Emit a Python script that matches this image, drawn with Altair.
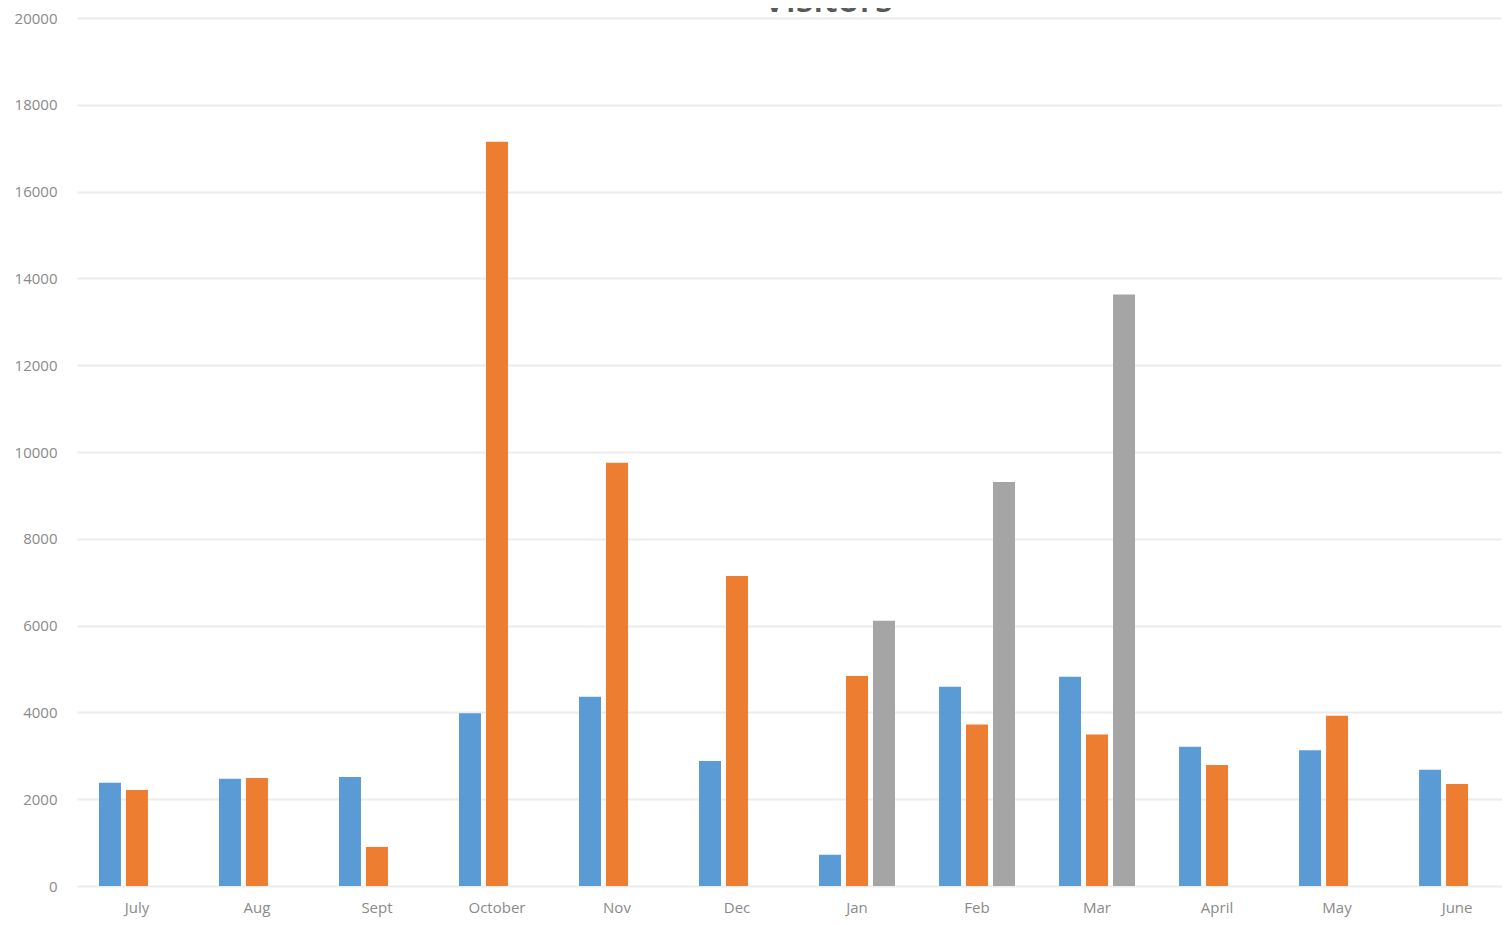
import altair as alt
import pandas as pd

months = ["July", "Aug", "Sept", "October", "Nov", "Dec", "Jan", "Feb", "Mar", "April", "May", "June"]
series_names = ["Series1", "Series2", "Series3"]
blue = [2380, 2470, 2510, 3980, 4360, 2880, 720, 4590, 4820, 3210, 3130, 2680]
orange = [2210, 2490, 900, 17150, 9750, 7140, 4840, 3720, 3490, 2790, 3920, 2350]
gray = [None, None, None, None, None, None, 6110, 9310, 13630, None, None, None]
colors = ["#5B9BD5", "#ED7D31", "#A5A5A5"]
y_ticks = list(range(0, 20001, 2000))
title_text = "Visitors"

rows = []
for name, vals in zip(series_names, [blue, orange, gray]):
    for m, v in zip(months, vals):
        if v is not None:
            rows.append({"month": m, "series": name, "value": v})
df = pd.DataFrame(rows)

bars = alt.Chart(df).mark_bar().encode(
    x=alt.X("month:N", sort=months,
            scale=alt.Scale(domain=months, range=[1, 1441], paddingInner=0.367, paddingOuter=0.183),
            axis=alt.Axis(title=None, labelAngle=0, ticks=False, domain=False,
                          labelFontSize=15, labelColor="#8a8a8a", labelFont="Open Sans",
                          labelPadding=21, labelBaseline="middle")),
    xOffset=alt.XOffset("series:N", scale=alt.Scale(domain=series_names, paddingInner=0.185, paddingOuter=0)),
    y=alt.Y("value:Q", scale=alt.Scale(domain=[0, 20000], nice=False),
            axis=alt.Axis(title=None, values=y_ticks, format="d", ticks=False, domain=False,
                          labelFontSize=15, labelColor="#8a8a8a", labelFont="Open Sans",
                          labelPadding=19, gridColor="#ececec", gridWidth=2)),
    color=alt.Color("series:N", scale=alt.Scale(domain=series_names, range=colors), legend=None),
)

title = alt.Chart(alt.Data(values=[{"t": title_text}])).mark_text(
    font="Open Sans", fontSize=36, fontWeight=600, color="#595959", baseline="alphabetic", align="center"
).encode(
    text="t:N", x=alt.value(752), y=alt.value(-6)
)

chart = alt.layer(bars, title).properties(
    width=1426, height=868,
    autosize=alt.AutoSizeParams(type="none"),
    padding={"left": 68, "top": 10, "right": 0, "bottom": 31},
).configure_view(stroke=None).configure_axisX(grid=False)

chart.save("out.html", embed_options={"renderer": "svg", "actions": False})
